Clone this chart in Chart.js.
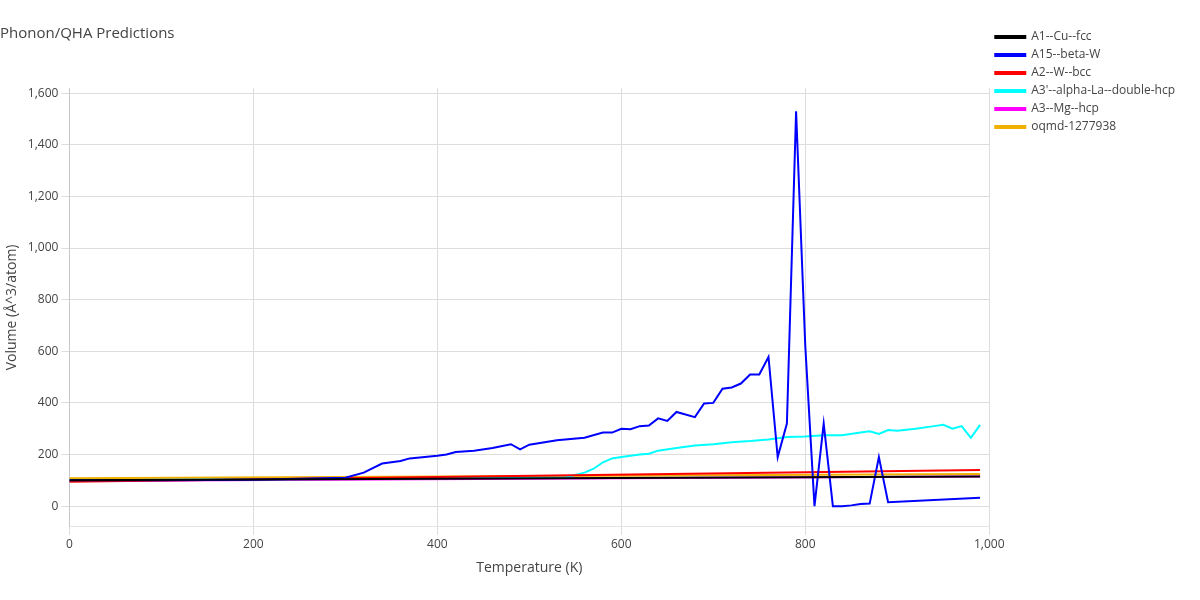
<!DOCTYPE html><html><head><script src="https://cdn.jsdelivr.net/npm/chart.js@4"></script>
<style>body{margin:0;background:#fff}</style></head><body><canvas id="c" width="1200" height="600"></canvas>
<script>
const temps=[0,100,200,300,320,340,360,370,400,410,420,440,460,480,490,500,530,560,580,590,600,610,620,630,640,650,660,680,690,700,710,720,730,740,750,760,770,780,790,800,810,820,830,840,850,860,870,880,890,990];
const beta=[100,100,102,110,130,165,175,185,195,200,210,215,225,240,220,238,255,265,285,285,300,298,310,312,340,330,365,345,398,400,455,460,475,510,510,578,190,320,1530,620,0,320,0,0,3,8,10,190,15,33];
const cyanT=[0,200,400,540,560,570,580,590,600,620,630,640,660,680,700,720,740,760,780,800,820,840,860,870,880,890,900,920,940,950,960,970,980,990];
const cyanV=[100,103,108,112,130,145,170,185,190,200,203,215,225,235,240,248,252,258,268,270,275,275,285,290,280,295,292,300,310,315,300,310,265,315];
const lineT=[0,990];
const cu=[100,115], w=[95,140], mg=[97,115], oq=[108,125];
const names=["A1--Cu--fcc","A15--beta-W","A2--W--bcc","A3'--alpha-La--double-hcp","A3--Mg--hcp","oqmd-1277938"];
const cols=["#000000","#0000ff","#ff0000","#00ffff","#ff00ff","#f0b000"];
const pts=(t,v)=>t.map((x,i)=>({x,y:v[i]}));
const data=[pts(lineT,cu),pts(temps,beta),pts(lineT,w),pts(cyanT,cyanV),pts(lineT,mg),pts(lineT,oq)];
new Chart(document.getElementById('c'),{type:'line',data:{datasets:names.map((n,i)=>({label:n,data:data[i],borderColor:cols[i],backgroundColor:cols[i],borderWidth:2,pointRadius:0,tension:0}))},
options:{responsive:false,animation:false,layout:{padding:{top:25,left:0,right:15,bottom:20}},
plugins:{title:{display:true,text:'Phonon/QHA Predictions',align:'start',color:'#444',font:{family:'Open Sans',size:15,weight:'normal'},padding:{top:0,bottom:45}},
legend:{position:'right',align:'start',labels:{boxWidth:30,boxHeight:2,padding:6,color:'#444',font:{family:'Open Sans',size:12}}}},
scales:{x:{type:'linear',min:0,max:1000,ticks:{stepSize:200,color:'#444',font:{family:'Open Sans',size:12}},grid:{color:'#ddd'},title:{display:true,text:'Temperature (K)',color:'#444',font:{family:'Open Sans',size:14}}},
y:{min:-80,max:1620,afterBuildTicks:a=>{a.ticks=[0,200,400,600,800,1000,1200,1400,1600].map(v=>({value:v}))},ticks:{color:'#444',font:{family:'Open Sans',size:12}},grid:{color:'#ddd'},title:{display:true,text:'Volume (Å^3/atom)',color:'#444',font:{family:'Open Sans',size:14}}}}}});
</script></body></html>
